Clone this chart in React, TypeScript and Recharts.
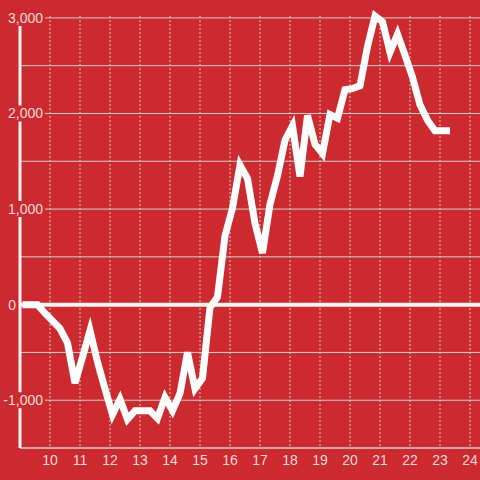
import { LineChart, Line, XAxis, YAxis, CartesianGrid, ReferenceLine } from 'recharts'

const hours = [
  9.083, 9.333, 9.583, 9.833, 10.083, 10.333, 10.583, 10.833, 11.083, 11.333,
  11.583, 11.833, 12.083, 12.333, 12.583, 12.833, 13.083, 13.333, 13.583, 13.833,
  14.083, 14.333, 14.583, 14.833, 15.083, 15.333, 15.583, 15.833, 16.083, 16.333,
  16.583, 16.833, 17.083, 17.333, 17.583, 17.833, 18.083, 18.333, 18.583, 18.833,
  19.083, 19.333, 19.583, 19.833, 20.083, 20.333, 20.583, 20.833, 21.083, 21.333,
  21.583, 21.833, 22.083, 22.333, 22.583, 22.833, 23.083, 23.333,
]

const values = [
  0, 0, 0, -90, -170, -250, -400, -820, -550, -270,
  -600, -880, -1150, -990, -1200, -1110, -1110, -1110, -1190, -970,
  -1110, -930, -500, -880, -770, -30, 80, 720, 1010, 1460,
  1320, 850, 540, 1050, 1350, 1720, 1870, 1340, 1980, 1680,
  1580, 1990, 1950, 2250, 2260, 2290, 2700, 3020, 2960, 2640,
  2830, 2610, 2380, 2090, 1930, 1820, 1820, 1820,
]

const xTicks = [10, 11, 12, 13, 14, 15, 16, 17, 18, 19, 20, 21, 22, 23, 24]
const yTicks = [-1000, 0, 1000, 2000, 3000]
const yGrid = [-1500, -1000, -500, 0, 500, 1000, 1500, 2000, 2500, 3000]

const BG = '#cc2a2f'
const TEXT = '#f6dada'
const GRID = '#cfcfcf'

const data = hours.map((t, i) => ({ t, v: values[i] }))

const fmt = (v: number) => v.toLocaleString('en-US')

function YTick(props: any) {
  const { y, payload } = props
  const label = fmt(payload.value)
  const right = payload.value === 0 ? 16 : 43
  return (
    <g>
      <rect x={0} y={y - 8} width={right + 2} height={16} fill={BG} />
      <text x={right} y={y} dy={5} textAnchor="end" fontSize={14} fill={TEXT}>
        {label}
      </text>
    </g>
  )
}

export default function App() {
  return (
    <div
      style={{
        position: 'fixed', left: 0, top: 0, width: 480, height: 480,
        background: BG, fontFamily: '"Liberation Sans", Arial, sans-serif',
      }}
    >
      <LineChart width={480} height={480} data={data}
        margin={{ top: 16, right: 0, bottom: 0, left: 0 }}>
        <CartesianGrid vertical={false} stroke={GRID} horizontalValues={yGrid} />
        <CartesianGrid horizontal={false} stroke={GRID} strokeDasharray="2 2" verticalValues={xTicks} />
        <XAxis dataKey="t" type="number" domain={[9, 24.333]} ticks={xTicks}
          height={32} tickLine={false} tickSize={0} tickMargin={7}
          axisLine={{ stroke: GRID }} tick={{ fill: TEXT, fontSize: 14 }} />
        <ReferenceLine y={0} stroke="#f4f4f4" strokeWidth={4} />
        <YAxis type="number" domain={[-1500, 3000]} ticks={yTicks} width={20}
          tickLine={false} axisLine={{ stroke: '#f4f4f4', strokeWidth: 3 }}
          tick={<YTick />} interval={0} />
        <Line type="linear" dataKey="v" stroke="#ffffff" strokeWidth={7}
          dot={false} isAnimationActive={false} />
      </LineChart>
    </div>
  )
}
